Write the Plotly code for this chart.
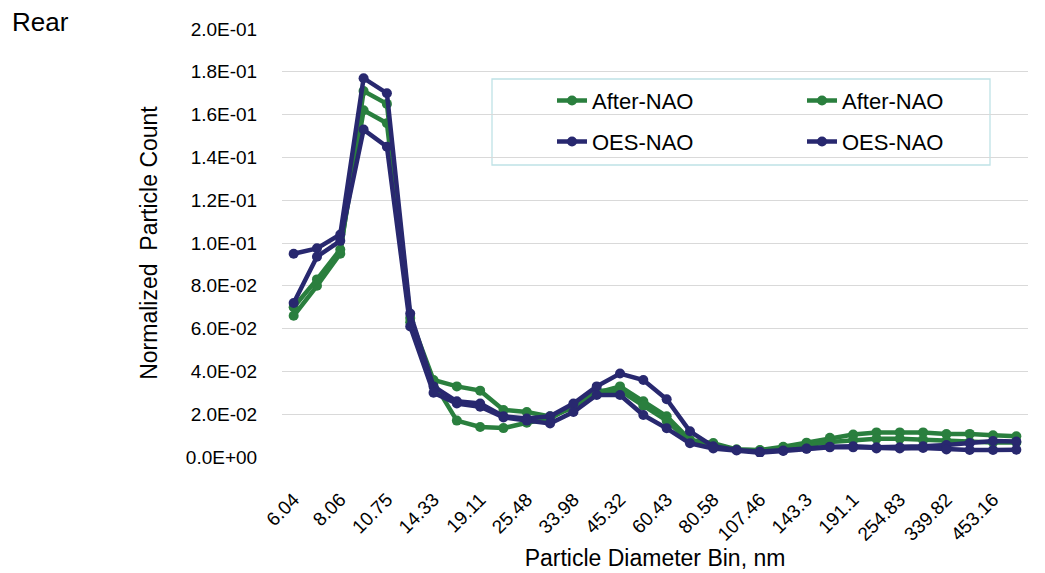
import plotly.graph_objs as go

# particle diameter bins (nm), x-axis categories
categories = ["6.04", "6.98", "8.06", "9.31", "10.75", "12.41", "14.33", "16.55",
              "19.11", "22.07", "25.48", "29.43", "33.98", "39.24", "45.32", "52.33",
              "60.43", "69.78", "80.58", "93.06", "107.46", "124.09", "143.3", "165.48",
              "191.1", "220.67", "254.83", "294.27", "339.82", "392.42", "453.16", "523.3"]
tick_labels = categories[::2]

after_nao_1 = [0.066, 0.080, 0.095, 0.171, 0.165, 0.065, 0.036, 0.033,
               0.031, 0.022, 0.021, 0.019, 0.023, 0.030, 0.033, 0.026,
               0.019, 0.008, 0.0065, 0.0035, 0.0033, 0.0048, 0.0067, 0.0090,
               0.0105, 0.0115, 0.0115, 0.0115, 0.0107, 0.0108, 0.0102, 0.0097]
after_nao_2 = [0.070, 0.083, 0.097, 0.162, 0.156, 0.063, 0.035, 0.017,
               0.014, 0.0135, 0.016, 0.018, 0.024, 0.031, 0.031, 0.024,
               0.017, 0.007, 0.005, 0.0035, 0.003, 0.004, 0.0055, 0.007,
               0.008, 0.0085, 0.0085, 0.008, 0.0075, 0.007, 0.0068, 0.0068]
oes_nao_1 = [0.095, 0.0975, 0.104, 0.177, 0.170, 0.067, 0.033, 0.026,
             0.025, 0.019, 0.018, 0.019, 0.025, 0.033, 0.039, 0.036,
             0.027, 0.012, 0.005, 0.0033, 0.0025, 0.003, 0.004, 0.0048,
             0.005, 0.0045, 0.0045, 0.005, 0.0056, 0.0065, 0.0075, 0.0072]
oes_nao_2 = [0.072, 0.0936, 0.101, 0.153, 0.145, 0.061, 0.030, 0.025,
             0.0235, 0.0185, 0.017, 0.0157, 0.021, 0.029, 0.029, 0.0196,
             0.0134, 0.0064, 0.004, 0.003, 0.002, 0.0028, 0.0038, 0.0045,
             0.0045, 0.004, 0.004, 0.0042, 0.0035, 0.0033, 0.0033, 0.0034]

y_ticks = [i * 0.02 for i in range(11)]

GREEN = "#2A7F3E"
NAVY = "#28286F"
FONT = "Liberation Sans, Arial, sans-serif"

# the page body has an 8px margin, so figure coords = screen coords - 8
OFF = 8
W, H = 1045, 573
L, R, T, B = 282 - OFF, 17 + OFF, 29 - OFF, 116 + OFF
pw, ph = W - L - R, H - T - B


def px_x(x):
    # screen x -> paper fraction
    return (x - OFF - L) / pw


def px_y(y):
    # screen y -> paper fraction
    return (H - B - (y - OFF)) / ph


# each legend entry gets its own legend box so the 2x2 grid matches Excel
series = [
    ("After-NAO", after_nao_1, GREEN, "legend", 552, 100.7),
    ("After-NAO", after_nao_2, GREEN, "legend2", 802, 100.7),
    ("OES-NAO", oes_nao_1, NAVY, "legend3", 552, 141.7),
    ("OES-NAO", oes_nao_2, NAVY, "legend4", 802, 141.7),
]

traces = []
legends = {}
for name, values, color, leg, lx, ly in series:
    traces.append(go.Scatter(
        x=categories,
        y=values,
        name=name,
        mode="lines+markers",
        line=dict(color=color, width=4.5),
        marker=dict(color=color, size=10),
        legend=leg,
    ))
    legends[leg] = dict(
        font=dict(family=FONT, size=22, color="#000000"),
        bgcolor="rgba(0,0,0,0)",
        borderwidth=0,
        xanchor="left",
        yanchor="middle",
        x=px_x(lx),
        y=px_y(ly),
    )

layout = go.Layout(
    width=W,
    height=H,
    margin=dict(l=L, r=R, t=T, b=B, autoexpand=False),
    paper_bgcolor="white",
    plot_bgcolor="white",
    font=dict(family=FONT, color="#000000"),
    showlegend=True,
    xaxis=dict(
        type="category",
        range=[-0.5, len(categories) - 0.5],
        tickmode="array",
        tickvals=tick_labels,
        ticktext=tick_labels,
        tickangle=-45,
        tickfont=dict(size=19),
        ticks="outside",
        ticklen=23,
        tickcolor="rgba(0,0,0,0)",
        showgrid=False,
        zeroline=False,
        showline=False,
        automargin=False,
        title=dict(text="Particle Diameter Bin, nm", font=dict(size=23), standoff=1),
    ),
    yaxis=dict(
        range=[0, 0.2],
        tickmode="array",
        tickvals=y_ticks,
        ticktext=[f"{v:.1E}" for v in y_ticks],
        tickfont=dict(size=19),
        ticks="outside",
        ticklen=20,
        tickcolor="rgba(0,0,0,0)",
        showgrid=True,
        gridcolor="#D9D9D9",
        gridwidth=1.3,
        zeroline=False,
        showline=False,
        automargin=False,
        title=dict(text="Normalized  Particle Count", font=dict(size=23), standoff=21),
    ),
    shapes=[dict(
        type="rect", xref="paper", yref="paper",
        x0=px_x(492), x1=px_x(990), y0=px_y(165), y1=px_y(79),
        line=dict(color="#BFE2E6", width=1.3),
        fillcolor="white",
        layer="between",
    )],
    annotations=[dict(
        text="Rear", xref="paper", yref="paper",
        x=px_x(10), y=px_y(22), xanchor="left", yanchor="middle",
        showarrow=False, font=dict(size=26),
    )],
    **legends,
)

fig = go.Figure(data=traces, layout=layout)
fig.write_html("out.html")
